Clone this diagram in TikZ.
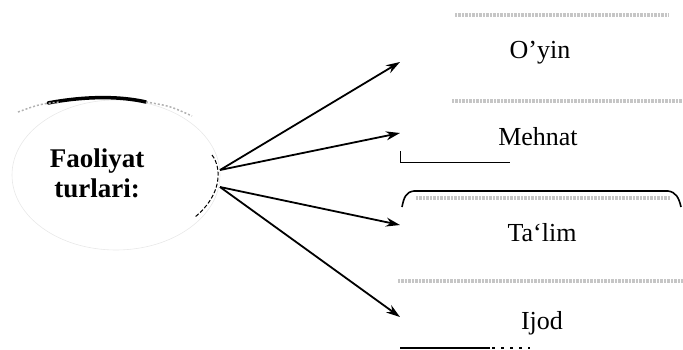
\documentclass[tikz,border=0pt]{standalone}
\usepackage{fontspec}
\setmainfont{Liberation Serif}
\usetikzlibrary{arrows.meta}
\begin{document}
\begin{tikzpicture}[x=1pt,y=-1pt,
  conn/.style={line width=1.8pt,-{Stealth[length=14pt,width=9pt]}},
  lbl/.style={font=\fontsize{26}{29}\selectfont,inner sep=0pt},
  noisy/.style={gray!45,line width=4pt,dash pattern=on 1.5pt off 1pt on 3pt off 1.5pt},
  edge/.style={line width=0.9pt}]
\useasboundingbox (0,0) rectangle (683,349);
% central ellipse
\draw[gray!18,line width=0.6pt] (116,175) ellipse [x radius=104,y radius=75];
\draw[line width=3.5pt,line cap=round] (48,103) .. controls (85,96) and (120,96) .. (146,102);
\draw[gray!60,line width=1.5pt,dash pattern=on 2pt off 2pt] (18,112) .. controls (40,104) .. (60,102);
\draw[gray!60,line width=1.5pt,dash pattern=on 2pt off 2pt] (146,102) .. controls (170,106) .. (192,116);
\draw[line width=1pt,dash pattern=on 4pt off 2pt] (212,155) .. controls (222,168) and (222,195) .. (195,217);
\node[lbl,font=\fontsize{27}{30}\selectfont\bfseries,align=center] (c) at (97,173) {Faoliyat\\turlari:};
% arrow start points
\coordinate (s1) at (220,170);
\coordinate (s2) at (220,187);
% targets
\coordinate (t1) at (400,62);
\coordinate (t2) at (400,133);
\coordinate (t3) at (400,225);
\coordinate (t4) at (400,317);
\draw[conn] (s1) -- (t1);
\draw[conn] (s1) -- (t2);
\draw[conn] (s2) -- (t3);
\draw[conn] (s2) -- (t4);
% labels
\node[lbl] (oyin) at (540,53) {O’yin};
\node[lbl] (mehnat) at (538,137) {Mehnat};
\node[lbl] (talim) at (542,233) {Ta`lim};
\node[lbl] (ijod) at (542,323) {Ijod};
% box fragments
\draw[noisy] (455,15) -- (668,15);
\draw[noisy] (452,101) -- (683,101);
\draw[edge] (400,151) -- (400,162) -- (510,162);
\draw[noisy] (416,198) -- (670,198);
\draw[line width=1.6pt] (402,207) .. controls (404,197) and (406,192) .. (414,191) -- (668,191) .. controls (676,192) and (679,198) .. (681,207);
\draw[noisy] (398,281) -- (683,281);
\draw[line width=1.6pt] (400,348) -- (490,348);
\draw[line width=1.6pt,dash pattern=on 3pt off 6pt] (492,348) -- (530,348);
\end{tikzpicture}
\end{document}
